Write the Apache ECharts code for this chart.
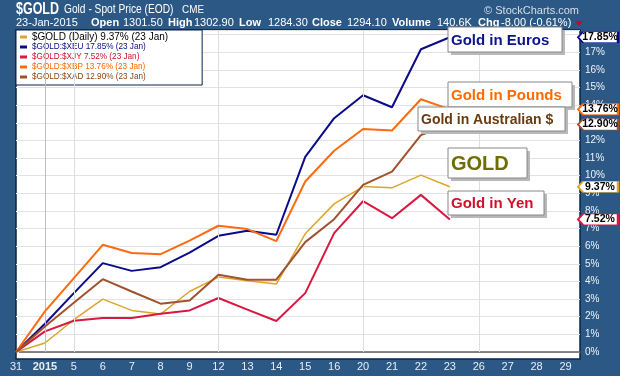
<!DOCTYPE html>
<html><head><meta charset="utf-8">
<script src="https://cdn.jsdelivr.net/npm/echarts@6/dist/echarts.min.js"></script>
<style>html,body{margin:0;padding:0;background:#2b5884;}#c{width:620px;height:376px;}</style>
</head><body><div id="c"></div>
<script>
// ---- data ----
const xLabels = ['31','2015','5','6','7','8','9','12','13','14','15','16','20','21','22','23','26','27','28','29'];
const seriesNames = ['$GOLD (Daily)', '$GOLD:$XEU', '$GOLD:$XJY', '$GOLD:$XBP', '$GOLD:$XAD'];
const goldUsd = [0, 0.51, 1.83, 3.00, 2.36, 2.15, 3.43, 4.25, 4.04, 3.85, 6.70, 8.40, 9.38, 9.31, 10.03, 9.37];
const goldEur = [0, 1.60, 3.34, 5.04, 4.60, 4.81, 5.63, 6.59, 6.87, 6.65, 11.07, 13.26, 14.56, 13.88, 17.17, 17.85];
const goldJpy = [0, 1.17, 1.77, 1.93, 1.93, 2.17, 2.36, 3.06, 2.40, 1.76, 3.34, 6.74, 8.55, 7.59, 8.91, 7.52];
const goldGbp = [0, 2.30, 4.19, 6.08, 5.61, 5.55, 6.32, 7.16, 6.97, 6.29, 9.67, 11.41, 12.65, 12.56, 14.33, 13.76];
const goldAud = [0, 1.45, 2.79, 4.13, 3.43, 2.74, 2.92, 4.38, 4.10, 4.10, 6.23, 7.53, 9.48, 10.23, 12.30, 12.90];
const weekStartLabels = ['2015', '5', '12', '20', '26'];
const calloutTexts = ['Gold in Euros', 'Gold in Pounds', 'Gold in Australian $', 'GOLD', 'Gold in Yen'];
const headerTitle = ['$GOLD', 'Gold - Spot Price (EOD)', 'CME'];
const headerRow = [['23-Jan-2015',false],['Open',true],['1301.50',false],['High',true],['1302.90',false],['Low',true],['1284.30',false],['Close',true],['1294.10',false],['Volume',true],['140.6K',false],['Chg',true],['-8.00 (-0.61%)',false]];
const lastDate = '23 Jan';

// ---- styling ----
const FONT = '"Liberation Sans", Arial, sans-serif';
const colors = ['#DAA52A', '#0A0A8A', '#D81840', '#FF6A10', '#A0522D'];
const legendColors = ['#000000', '#0A0A8A', '#C8102E', '#FF6600', '#8B4513'];
const widths = [1.5, 2, 2, 2, 2];
const allData = [goldUsd, goldEur, goldJpy, goldGbp, goldAud];
const xMax = xLabels.length - 0.5;
const lastVal = {};
seriesNames.forEach((n, i) => { lastVal[n] = allData[i][allData[i].length - 1]; });

const tagPath = 'path://M0,5 L5,0 L40,0 L40,10 L5,10 Z';

const series = seriesNames.map((name, i) => ({
  type: 'line', name, data: allData[i].map((v, k) => [k, v]),
  symbol: 'none', z: 2 + i,
  lineStyle: { color: colors[i], width: widths[i] },
  itemStyle: { color: colors[i] },
  markPoint: {
    symbol: tagPath, symbolSize: [40, 11], symbolOffset: [18, 0], symbolKeepAspect: false,
    itemStyle: { color: '#fff', borderColor: colors[i], borderWidth: 1.3 },
    label: { show: true, position: 'inside', offset: [2, 0], formatter: lastVal[name].toFixed(2) + '%',
      color: '#000', fontWeight: 'bold', fontSize: 10.5, fontFamily: FONT },
    data: [{ coord: [xMax, lastVal[name]] }]
  }
}));

series.unshift({
  type: 'line', name: 'vgrid', data: [], silent: true, z: 1,
  markLine: {
    symbol: 'none', silent: true, label: { show: false }, animation: false,
    data: weekStartLabels.map((l, k) => ({ xAxis: xLabels.indexOf(l),
      lineStyle: { color: k === 0 ? '#bdbdbd' : '#dedede', width: 1, type: 'solid' } }))
  }
});

// ---- graphics (frame, header, callouts) ----
const g = [];
g.push({ type: 'rect', z: -10, shape: { x: 16, y: 30, width: 564, height: 329 },
  style: { fill: '#ffffff', stroke: '#0b2447', lineWidth: 1.5 } });
g.push({ type: 'text', z: 10, x: 16, y: 10, scaleX: 0.78, style: { text: headerTitle[0], x: 0, y: 0, fill: '#fff', font: 'bold 16px ' + FONT, verticalAlign: 'middle' } });
g.push({ type: 'text', z: 10, x: 64, y: 10, scaleX: 0.85, style: { text: headerTitle[1], x: 0, y: 0, fill: '#fff', font: '12px ' + FONT, verticalAlign: 'middle' } });
g.push({ type: 'text', z: 10, x: 182, y: 10, scaleX: 0.9, style: { text: headerTitle[2], x: 0, y: 0, fill: '#fff', font: '11px ' + FONT, verticalAlign: 'middle' } });
const rowX = [16, 91, 123, 168, 194, 239, 268, 312, 347, 392, 437, 478, 501];
headerRow.forEach((h, i) => g.push({ type: 'text', z: 10, style: { text: h[0], x: rowX[i], y: 23, fill: '#fff',
  font: (h[1] ? 'bold ' : '') + '11px ' + FONT, verticalAlign: 'middle' } }));
g.push({ type: 'text', z: 10, style: { text: '\u00A9 StockCharts.com', x: 579, y: 11, fill: '#d6dee8', font: '11px ' + FONT, align: 'right', verticalAlign: 'middle' } });
g.push({ type: 'polygon', z: 10, shape: { points: [[575, 21], [583, 21], [579, 26]] }, style: { fill: '#b8102a' } });

const callouts = [
  { x: 448, y: 27, w: 114, h: 25, color: '#0A148C', size: 15 },
  { x: 448, y: 82, w: 124, h: 25, color: '#FF6A00', size: 15 },
  { x: 418, y: 107, w: 147, h: 24, color: '#6B3A0E', size: 14 },
  { x: 448, y: 148, w: 79, h: 30, color: '#6E6E00', size: 20 },
  { x: 448, y: 191, w: 96, h: 24, color: '#D0102A', size: 15 }
];
callouts.forEach((c, i) => {
  g.push({ type: 'rect', z: 50, shape: { x: c.x + 3, y: c.y + 3, width: c.w, height: c.h }, style: { fill: '#b9b9b9' } });
  g.push({ type: 'rect', z: 51, shape: { x: c.x, y: c.y, width: c.w, height: c.h }, style: { fill: '#fff', stroke: '#888', lineWidth: 1 } });
  g.push({ type: 'text', z: 52, style: { text: calloutTexts[i], x: c.x + 3, y: c.y + c.h / 2 + 1, fill: c.color,
    font: 'bold ' + c.size + 'px ' + FONT, verticalAlign: 'middle' } });
});

const chart = echarts.init(document.getElementById('c'), null, { renderer: 'canvas' });
chart.setOption({
  animation: false,
  backgroundColor: '#2b5884',
  grid: { left: 16, right: 40, top: 30, bottom: 24, containLabel: false },
  legend: {
    orient: 'vertical', left: 16, top: 30, selectedMode: false,
    backgroundColor: '#fff', borderColor: '#0b2447', borderWidth: 1,
    padding: [2, 34, 3, 4], itemGap: 0, itemWidth: 7, itemHeight: 3, itemTextGap: 5,
    icon: 'rect',
    data: seriesNames.map((n, i) => ({ name: n, itemStyle: { color: colors[i] },
      textStyle: { color: legendColors[i], fontSize: i === 0 ? 10 : 8.2, lineHeight: 10, fontFamily: FONT } })),
    formatter: n => n + ' ' + lastVal[n].toFixed(2) + '% (' + lastDate + ')'
  },
  xAxis: {
    type: 'value', min: 0, max: xMax, interval: 1,
    axisLine: { show: true, lineStyle: { color: '#606060', width: 1.5 } },
    axisTick: { show: false }, splitLine: { show: false },
    axisLabel: { color: '#e8eef4', fontSize: 11, fontFamily: FONT, margin: 9,
      showMinLabel: true, showMaxLabel: true,
      formatter: v => { if (!Number.isInteger(v) || !xLabels[v]) return ''; return v === 1 ? '{b|' + xLabels[v] + '}' : xLabels[v]; },
      rich: { b: { fontWeight: 'bold', color: '#e8eef4', fontSize: 11, fontFamily: FONT } } }
  },
  yAxis: {
    type: 'value', position: 'right', min: 0, max: 18.26, interval: 1,
    axisLine: { show: false },
    axisTick: { show: true, length: 3, lineStyle: { color: '#fff' } },
    splitLine: { show: true, lineStyle: { color: '#e2e2e2', width: 1 } },
    axisLabel: { color: '#f0f4f8', fontSize: 10, fontFamily: FONT, margin: 5,
      formatter: v => (Number.isInteger(v) && v <= 17) ? v + '%' : '' }
  },
  graphic: { elements: g },
  series
});
</script></body></html>
